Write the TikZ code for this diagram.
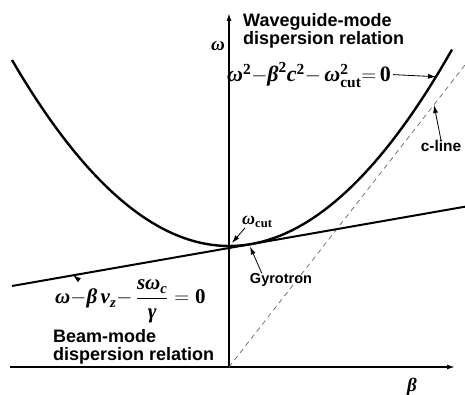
\documentclass[tikz,border=0pt]{standalone}
\usepackage{amsmath}
\usepackage{fontspec}
\setmainfont{Liberation Sans}
\newfontfamily\eqfont{Liberation Serif}
\newcommand{\eqv}[1]{\text{\eqfont\bfseries\itshape #1}}
\newcommand{\eqr}[1]{\text{\eqfont\bfseries #1}}
\usetikzlibrary{positioning, arrows.meta}

\begin{document}
\begin{tikzpicture}[x=1pt, y=1pt, >={Latex[length=8pt,width=5pt]}]
    \tikzstyle{axis}=[line width=1.5pt]
    \tikzstyle{curve}=[line width=2.4pt]
    \tikzstyle{beam}=[line width=2pt]
    \tikzstyle{cline}=[line width=0.7pt, gray!80!black, dash pattern=on 5pt off 4pt]
    \tikzstyle{pointer}=[->, line width=0.8pt]
    \tikzstyle{title}=[inner sep=0, align=left, font=\fontsize{18}{18}\selectfont\bfseries]
    \tikzstyle{eq}=[inner sep=0]
    \tikzstyle{tag}=[inner sep=0, font=\fontsize{14.5}{16}\selectfont\bfseries]

    \useasboundingbox (-229,-28) rectangle (236,367);

    % axes
    \draw[axis, ->] (-219,0) -- (226,0);
    \draw[axis, ->] (0,0) -- (0,354);
    \node[eq, font=\fontsize{19}{20}\selectfont] (w) at (-11,321) {\eqv{ω}};
    \node[eq, font=\fontsize{19}{20}\selectfont] (b) at (183,-20) {\eqv{β}};

    % dispersion curves
    \draw[cline] (0,0) -- (236,302);
    \draw[curve] plot[domain=-217:223, samples=80] (\x, {121+39.5*(\x/100)^2});
    \coordinate (b1) at (-217,81);
    \coordinate (b2) at (236,160.3);
    \draw[beam] (b1) -- (b2);

    % labels
    \node[title, anchor=north west] (wg) at (14,354) {Waveguide-mode\\dispersion relation};
    \node[title, anchor=north west] (bm) at (-176,38) {Beam-mode\\dispersion relation};
    \node[eq, anchor=base west, font=\fontsize{22}{26}\selectfont] (eq1) at (-2,285)
        {$\eqv{ω}^{\eqr{2}}{-}\eqv{β}^{\eqr{2}}\eqv{c}^{\eqr{2}}{-}\,\eqv{ω}^{\eqr{2}}_{\eqr{cut}}{=}\,\eqr{0}$};
    \node[eq, anchor=base west, font=\fontsize{21}{24}\selectfont] (eq2) at (-174,63)
        {$\eqv{ω}{-}\eqv{β}\,\eqv{v}_{\eqv{z}}{-}\,\dfrac{\eqv{s}\eqv{ω}_{\eqv{c}}}{\eqv{γ}}=\eqr{0}$};
    \node[eq, anchor=base west, font=\fontsize{18}{20}\selectfont] (wc) at (13,142) {$\eqv{ω}_{\eqr{cut}}$};
    \node[tag] (gyro) at (52,87) {Gyrotron};
    \node[tag, font=\fontsize{15.5}{17}\selectfont\bfseries] (cl) at (212,221) {c-line};

    \coordinate (p1) at (207,{121+39.5*(2.07)^2});
    \coordinate (p2) at (-156,91.7);
    \coordinate (p3) at (3,124);
    \coordinate (p4) at (21,120.5);
    \coordinate (p5) at (205,262);

    \draw[pointer] ([xshift=2pt]eq1.east) -- (p1);
    \draw[pointer] ([xshift=24pt]eq2.north west) -- (p2);
    \draw[pointer] ([xshift=3pt]wc.south west) -- (p3);
    \draw[pointer] ([xshift=12pt]gyro.north west) -- (p4);
    \draw[pointer] (cl.north) -- (p5);
\end{tikzpicture}
\end{document}
